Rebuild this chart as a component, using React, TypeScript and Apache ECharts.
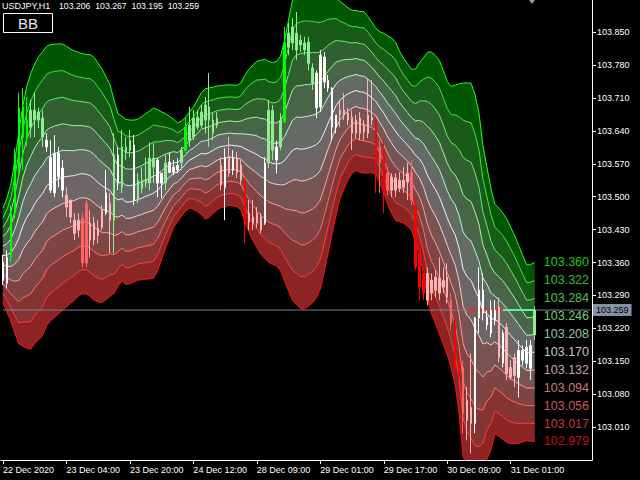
import React, { useEffect, useRef } from "react";
import * as echarts from "echarts";

const symbolName = "USDJPY,H1";
const timeLabels = [
  "22 Dec 2020", "23 Dec 04:00", "23 Dec 20:00", "24 Dec 12:00", "28 Dec 09:00",
  "29 Dec 01:00", "29 Dec 17:00", "30 Dec 09:00", "31 Dec 01:00",
];
const barsPerTimeLabel = 16;
const slotCount = 149;

const bbMid = [
  103.375, 103.376, 103.381, 103.394, 103.412, 103.438, 103.456, 103.469, 103.485, 103.497,
  103.507, 103.523, 103.530, 103.534, 103.538, 103.542, 103.543, 103.544, 103.545, 103.548,
  103.549, 103.548, 103.545, 103.538, 103.530, 103.523, 103.518, 103.513, 103.500, 103.493,
  103.496, 103.489, 103.489, 103.491, 103.494, 103.497, 103.501, 103.504, 103.508, 103.514,
  103.524, 103.534, 103.542, 103.550, 103.552, 103.560, 103.569, 103.578, 103.582, 103.587,
  103.592, 103.591, 103.594, 103.599, 103.604, 103.607, 103.608, 103.610, 103.609, 103.608,
  103.607, 103.602, 103.598, 103.594, 103.590, 103.584, 103.581, 103.574, 103.571, 103.570,
  103.571, 103.577, 103.588, 103.599, 103.603, 103.601, 103.602, 103.604, 103.607, 103.611,
  103.619, 103.637, 103.657, 103.676, 103.694, 103.706, 103.713, 103.719, 103.723, 103.726,
  103.723, 103.722, 103.717, 103.711, 103.703, 103.690, 103.678, 103.663, 103.651, 103.639,
  103.628, 103.619, 103.610, 103.600, 103.588, 103.581, 103.567, 103.546, 103.530, 103.516,
  103.500, 103.478, 103.455, 103.435, 103.419, 103.390, 103.346, 103.330, 103.322, 103.302,
  103.284, 103.257, 103.252, 103.240, 103.240, 103.233, 103.225, 103.215, 103.205, 103.196,
  103.186, 103.177, 103.168, 103.168, 103.1698,
];
const bbDev = [
  0.0201, 0.0242, 0.0291, 0.0368, 0.0450, 0.0511, 0.0557, 0.0586, 0.0594, 0.0602,
  0.0603, 0.0594, 0.0587, 0.0581, 0.0574, 0.0566, 0.0554, 0.0541, 0.0530, 0.0518,
  0.0511, 0.0509, 0.0515, 0.0516, 0.0507, 0.0496, 0.0473, 0.0449, 0.0411, 0.0366,
  0.0350, 0.0351, 0.0348, 0.0344, 0.0342, 0.0347, 0.0352, 0.0357, 0.0362, 0.0342,
  0.0313, 0.0285, 0.0258, 0.0230, 0.0210, 0.0202, 0.0199, 0.0204, 0.0217, 0.0237,
  0.0259, 0.0277, 0.0275, 0.0268, 0.0263, 0.0259, 0.0259, 0.0256, 0.0257, 0.0258,
  0.0270, 0.0313, 0.0345, 0.0373, 0.0396, 0.0412, 0.0423, 0.0427, 0.0429, 0.0436,
  0.0457, 0.0512, 0.0576, 0.0639, 0.0664, 0.0677, 0.0681, 0.0673, 0.0666, 0.0651,
  0.0630, 0.0592, 0.0551, 0.0507, 0.0462, 0.0417, 0.0392, 0.0365, 0.0347, 0.0340,
  0.0342, 0.0343, 0.0333, 0.0320, 0.0310, 0.0322, 0.0339, 0.0358, 0.0373, 0.0379,
  0.0362, 0.0350, 0.0345, 0.0342, 0.0367, 0.0408, 0.0457, 0.0522, 0.0556, 0.0569,
  0.0580, 0.0582, 0.0581, 0.0599, 0.0637, 0.0700, 0.0792, 0.0824, 0.0839, 0.0830,
  0.0788, 0.0703, 0.0622, 0.0556, 0.0489, 0.0485, 0.0481, 0.0475, 0.0460, 0.0442,
  0.0421, 0.0397, 0.0374, 0.0375, 0.03808,
];

const candleOpen = [
  103.322, 103.316, 103.371, 103.465, 103.557, 103.691, 103.627, 103.648, 103.684, 103.663,
  103.667, 103.620, 103.584, 103.508, 103.593, 103.561, 103.503, 103.493, 103.450, 103.429,
  103.454, 103.359, 103.444, 103.408, 103.433, 103.435, 103.465, 103.486, 103.450, 103.589,
  103.520, 103.606, 103.599, 103.610, 103.493, 103.535, 103.529, 103.529, 103.582, 103.578,
  103.529, 103.529, 103.552, 103.563, 103.557, 103.572, 103.599, 103.620, 103.627, 103.648,
  103.652, 103.663, 103.691, 103.663, 103.652, 103.567, 103.520, 103.584, 103.557, 103.582,
  103.567, 103.535, 103.446, 103.457, 103.444, 103.457, 103.444, 103.572, 103.684, 103.606,
  103.606, 103.659, 103.818, 103.827, 103.848, 103.823, 103.827, 103.829, 103.774, 103.763,
  103.691, 103.797, 103.748, 103.731, 103.648, 103.674, 103.684, 103.678, 103.669, 103.635,
  103.667, 103.638, 103.635, 103.669, 103.663, 103.572, 103.599, 103.514, 103.542, 103.514,
  103.535, 103.520, 103.531, 103.552, 103.482, 103.386, 103.337, 103.280, 103.322, 103.301,
  103.327, 103.308, 103.329, 103.280, 103.227, 103.146, 103.137, 103.067, 103.052, 103.018,
  103.242, 103.301, 103.244, 103.210, 103.259, 103.265, 103.146, 103.222, 103.137, 103.120,
  103.116, 103.173, 103.146, 103.135, 103.206,
];
const candleClose = [
  103.361, 103.371, 103.465, 103.593, 103.689, 103.627, 103.663, 103.684, 103.663, 103.680,
  103.627, 103.606, 103.514, 103.593, 103.542, 103.514, 103.478, 103.457, 103.422, 103.450,
  103.359, 103.486, 103.408, 103.444, 103.418, 103.471, 103.508, 103.450, 103.589, 103.529,
  103.606, 103.593, 103.620, 103.493, 103.535, 103.518, 103.535, 103.582, 103.563, 103.529,
  103.550, 103.572, 103.574, 103.552, 103.567, 103.599, 103.648, 103.652, 103.667, 103.669,
  103.680, 103.695, 103.663, 103.635, 103.667, 103.525, 103.584, 103.550, 103.582, 103.552,
  103.535, 103.446, 103.465, 103.444, 103.465, 103.429, 103.572, 103.684, 103.599, 103.578,
  103.663, 103.827, 103.848, 103.861, 103.812, 103.833, 103.812, 103.784, 103.742, 103.689,
  103.801, 103.744, 103.731, 103.648, 103.674, 103.684, 103.674, 103.663, 103.635, 103.663,
  103.635, 103.652, 103.674, 103.663, 103.572, 103.606, 103.508, 103.550, 103.514, 103.540,
  103.518, 103.535, 103.550, 103.493, 103.350, 103.308, 103.295, 103.337, 103.295, 103.329,
  103.295, 103.322, 103.286, 103.231, 103.137, 103.116, 103.039, 103.024, 103.018, 103.242,
  103.301, 103.252, 103.227, 103.259, 103.237, 103.158, 103.210, 103.124, 103.116, 103.158,
  103.173, 103.152, 103.180, 103.184, 103.259,
];
const candleLow = [
  103.312, 103.305, 103.361, 103.454, 103.540, 103.557, 103.606, 103.625, 103.627, 103.646,
  103.606, 103.595, 103.508, 103.499, 103.520, 103.499, 103.457, 103.444, 103.408, 103.414,
  103.350, 103.350, 103.371, 103.397, 103.401, 103.429, 103.461, 103.380, 103.380, 103.514,
  103.508, 103.578, 103.584, 103.482, 103.486, 103.508, 103.520, 103.514, 103.529, 103.499,
  103.497, 103.514, 103.550, 103.546, 103.550, 103.557, 103.593, 103.606, 103.620, 103.642,
  103.646, 103.635, 103.606, 103.620, 103.646, 103.514, 103.450, 103.542, 103.546, 103.540,
  103.525, 103.401, 103.429, 103.429, 103.433, 103.422, 103.440, 103.561, 103.578, 103.550,
  103.599, 103.657, 103.801, 103.812, 103.791, 103.808, 103.801, 103.769, 103.727, 103.667,
  103.680, 103.731, 103.723, 103.620, 103.635, 103.648, 103.663, 103.652, 103.599, 103.625,
  103.620, 103.620, 103.625, 103.652, 103.508, 103.508, 103.465, 103.503, 103.499, 103.499,
  103.510, 103.508, 103.493, 103.482, 103.344, 103.280, 103.280, 103.269, 103.280, 103.286,
  103.280, 103.295, 103.273, 103.216, 103.131, 103.095, 102.997, 102.982, 102.954, 102.997,
  103.210, 103.237, 103.216, 103.201, 103.227, 103.148, 103.137, 103.110, 103.110, 103.095,
  103.073, 103.141, 103.135, 103.110, 103.195,
];
const candleHigh = [
  103.376, 103.386, 103.482, 103.603, 103.721, 103.731, 103.712, 103.706, 103.721, 103.689,
  103.684, 103.635, 103.620, 103.631, 103.606, 103.578, 103.520, 103.493, 103.465, 103.465,
  103.467, 103.493, 103.471, 103.457, 103.450, 103.482, 103.557, 103.508, 103.635, 103.606,
  103.642, 103.627, 103.642, 103.631, 103.550, 103.563, 103.584, 103.616, 103.614, 103.582,
  103.550, 103.589, 103.593, 103.578, 103.582, 103.606, 103.669, 103.691, 103.684, 103.684,
  103.695, 103.712, 103.763, 103.678, 103.680, 103.584, 103.603, 103.627, 103.599, 103.595,
  103.578, 103.540, 103.493, 103.493, 103.478, 103.465, 103.584, 103.706, 103.695, 103.620,
  103.678, 103.861, 103.870, 103.880, 103.893, 103.844, 103.840, 103.840, 103.784, 103.769,
  103.812, 103.808, 103.759, 103.733, 103.674, 103.706, 103.721, 103.689, 103.684, 103.674,
  103.680, 103.663, 103.752, 103.748, 103.667, 103.620, 103.620, 103.563, 103.550, 103.550,
  103.552, 103.563, 103.572, 103.578, 103.499, 103.408, 103.348, 103.350, 103.337, 103.344,
  103.371, 103.350, 103.359, 103.295, 103.244, 103.173, 103.152, 103.095, 103.167, 103.244,
  103.350, 103.337, 103.259, 103.280, 103.280, 103.286, 103.216, 103.231, 103.152, 103.167,
  103.195, 103.184, 103.195, 103.195, 103.267,
];
const candleTone = (
  "WWGGGGGLLL" + "LWWWWWPPPP" + "SSPPPPWPLW" + "LLLWLLLLLW" + "WLWWWLGLLL" +
  "LLLLLPWPWP" + "PRPPPPWLLW" + "LGLLLLLLLW" + "WWWWWPPPPP" + "PPPPRSRSPP" +
  "PPPSRRRPPP" + "PPPSRRSPPW" + "WWWWWPWPPP" + "WWWWL"
).split("");
const bidRedBars = [117, 126];
const bidGreenBars = [126, 134];

const zoneColors = [
  "#005500", "#185a18", "#305f30", "#486548", "#646b64",
  "#6e6666", "#775454", "#7f4444", "#853434", "#8c2424",
];
const lineColors = [
  "#1aff1a", "#40e840", "#66ee66", "#99ff99", "#bbf5dd", "#f4f4ff",
  "#ffd0d0", "#ff9c9c", "#ff7070", "#ff4040", "#ff1010",
];
const toneColors: Record<string, string> = {
  G: "#00ff00", L: "#90ee90", W: "#ffffff", P: "#ffb4b4", S: "#ff6464", R: "#ff0000",
};

const FONT = "Liberation Sans, Arial, sans-serif";

export default function App() {
  const ref = useRef<HTMLDivElement>(null);
  useEffect(() => {
    document.body.style.margin = "0";
    document.body.style.background = "#000";
    const chart = echarts.init(ref.current!, null, { renderer: "svg" });
    const n = bbMid.length;
    const last = n - 1;
    const cats = Array.from({ length: slotCount }, (_, i) => String(i));
    const lastClose = candleClose[last];
    const levelAt = (k: number, i: number) => bbMid[i] + (5 - k) * bbDev[i];

    const series: any[] = [];
    series.push({
      type: "custom", silent: true, z: 1, clip: true,
      data: zoneColors.map((_, k) => [k, bbMid[last]]),
      renderItem: (params: any, api: any) => {
        const k = params.dataIndex;
        const top: number[][] = [];
        const bot: number[][] = [];
        for (let i = 0; i < n; i++) {
          top.push(api.coord([i, levelAt(k, i)]));
          bot.push(api.coord([i, levelAt(k + 1, i)]));
        }
        return {
          type: "polygon",
          shape: { points: top.concat(bot.reverse()) },
          style: { fill: zoneColors[k], stroke: zoneColors[k], lineWidth: 0.5 },
        };
      },
    });
    for (let k = 0; k <= 10; k++) {
      series.push({
        type: "line", symbol: "none", silent: true, z: 2,
        data: bbMid.map((_, i) => levelAt(k, i)),
        lineStyle: { color: lineColors[k], width: 1 },
      });
    }
    series.push({
      type: "line", symbol: "none", silent: true, z: 3,
      data: cats.map(() => lastClose),
      lineStyle: { color: "#778899", width: 1 },
      endLabel: {
        show: true, formatter: lastClose.toFixed(3), color: "#000",
        backgroundColor: "#8392a6", padding: [2, 3, 1, 3], fontSize: 9,
        fontFamily: FONT, distance: 3,
      },
    });
    const seg = (span: number[], color: string) => ({
      type: "line", symbol: "none", silent: true, z: 3,
      data: cats.map((_, i) => (i >= span[0] && i <= span[1] ? lastClose : null)),
      lineStyle: { color, width: 2 },
    });
    series.push(seg(bidRedBars, "#ff2020"));
    series.push(seg(bidGreenBars, "#60f0a0"));

    series.push({
      type: "candlestick", z: 4, silent: true, barWidth: 2,
      data: candleOpen.map((o, i) => {
        const c = toneColors[candleTone[i]] || "#fff";
        return {
          value: [o, candleClose[i], candleLow[i], candleHigh[i]],
          itemStyle: { color: c, color0: c, borderColor: c, borderColor0: c, borderColorDoji: c, borderWidth: 1 },
        };
      }),
    });

    const levels = lineColors.map((_, k) => levelAt(k, last));
    series.push({
      type: "scatter", z: 5, silent: true, symbolSize: 0,
      data: levels.map((v, k) => ({
        value: [slotCount - 1, v],
        label: { color: lineColors[k] },
      })),
      label: {
        show: true, position: "left", distance: 1, fontSize: 12.5, fontFamily: FONT,
        formatter: (p: any) => p.value[1].toFixed(3),
      },
    });

    const tickAt = (i: number) => i % barsPerTimeLabel === 0 && i / barsPerTimeLabel < timeLabels.length;

    chart.setOption({
      animation: false,
      backgroundColor: "#000",
      grid: { left: -4, right: 48, top: 0, bottom: 20 },
      xAxis: {
        type: "category", data: cats, boundaryGap: true,
        axisLine: { lineStyle: { color: "#fff", width: 1 } },
        axisTick: { show: true, alignWithLabel: true, length: 4, interval: (i: number) => tickAt(i), lineStyle: { color: "#fff" } },
        axisLabel: {
          interval: (i: number) => tickAt(i), align: "left", margin: 5, color: "#fff",
          fontSize: 9, fontFamily: FONT,
          formatter: (_v: string, i: number) => timeLabels[i / barsPerTimeLabel] || "",
        },
        splitLine: { show: false },
      },
      yAxis: {
        type: "value", position: "right", min: 102.94, max: 103.9185, interval: 0.07,
        axisLine: { show: true, lineStyle: { color: "#fff", width: 1 } },
        axisTick: { show: true, length: 4, lineStyle: { color: "#fff" } },
        axisLabel: {
          color: "#fff", fontSize: 9, fontFamily: FONT, margin: 5,
          showMinLabel: false, showMaxLabel: false,
          formatter: (v: number) => v.toFixed(3),
        },
        splitLine: { show: false },
      },
      graphic: [
        { type: "text", x: 2, y: 1, z: 10, style: { text: symbolName, fill: "#fff", font: `9px ${FONT}`, verticalAlign: "top" } },
        {
          type: "text", x: 59, y: 1, z: 10,
          style: {
            text: [candleOpen[last], candleHigh[last], candleLow[last], candleClose[last]].map((v) => v.toFixed(3)).join("  "),
            fill: "#fff", font: `8.7px ${FONT}`, verticalAlign: "top",
          },
        },
        { type: "rect", z: 10, shape: { x: 3.5, y: 13.5, width: 49, height: 19 }, style: { fill: "#000", stroke: "#fff", lineWidth: 1 } },
        { type: "text", z: 11, x: 28, y: 23.5, style: { text: "BB", fill: "#e8e8e8", font: `15px ${FONT}`, align: "center", verticalAlign: "middle" } },
        { type: "polygon", z: 10, shape: { points: [[529, 0], [535, 0], [532, 4]] }, style: { fill: "#8c9aab" } },
      ],
      series,
    });
    return () => chart.dispose();
  }, []);
  return <div ref={ref} style={{ position: "fixed", left: 0, top: 0, width: 640, height: 480, background: "#000" }} />;
}
